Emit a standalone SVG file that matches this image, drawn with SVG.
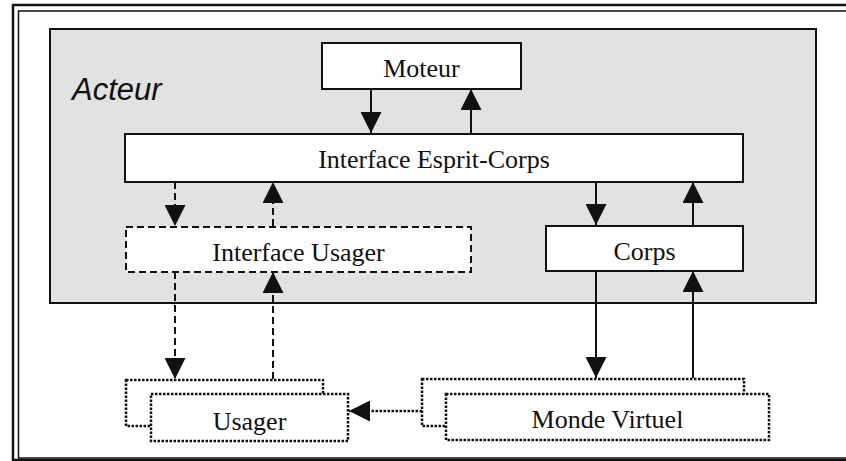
<svg xmlns="http://www.w3.org/2000/svg" width="846" height="461" viewBox="0 0 846 461">
  <style>
    .box { fill: #ffffff; stroke: #111111; stroke-width: 2; }
    .dash { stroke-dasharray: 7 4; }
    .dot { stroke-dasharray: 2.5 1.5; stroke-width: 2.5; }
    .lbl { font-family: "Liberation Serif", "Times New Roman", serif; font-size: 26px; fill: #111111; text-anchor: middle; }
    .wire { fill: none; stroke: #111111; stroke-width: 2; }
    .wire.d { stroke-dasharray: 7 4; }
    .wire.p { stroke-dasharray: 2.5 1.5; stroke-width: 2.5; }
  </style>
  <defs>
    <marker id="head" markerUnits="userSpaceOnUse" markerWidth="21" markerHeight="21" viewBox="0 0 21 21" refX="21" refY="10.5" orient="auto">
      <path d="M0,0 L21,10.5 L0,21 z" fill="#111111"/>
    </marker>
  </defs>

  <rect width="846" height="461" fill="#ffffff"/>

  <!-- double page frame -->
  <rect x="13" y="5" width="845" height="455" fill="none" stroke="#111111" stroke-width="2.5"/>
  <rect x="18.5" y="11" width="840" height="447" fill="none" stroke="#111111" stroke-width="1.5"/>

  <!-- Acteur container -->
  <g id="acteur">
    <rect x="50" y="29" width="766" height="274" fill="#e2e2e2" stroke="#111111" stroke-width="2"/>
    <text x="72" y="100" font-family="Liberation Sans, Arial, sans-serif" font-style="italic" font-size="31" fill="#111111">Acteur</text>
  </g>

  <g id="moteur">
    <rect class="box" x="322" y="43" width="199" height="46"/>
    <text class="lbl" x="421.5" y="77">Moteur</text>
  </g>

  <g id="interface-esprit-corps">
    <rect class="box" x="125" y="134" width="618" height="48"/>
    <text class="lbl" x="434" y="168">Interface Esprit-Corps</text>
  </g>

  <g id="interface-usager">
    <rect class="box dash" x="126" y="227" width="345" height="45"/>
    <text class="lbl" x="298.5" y="261">Interface Usager</text>
  </g>

  <g id="corps">
    <rect class="box" x="546" y="226" width="197" height="45"/>
    <text class="lbl" x="644.5" y="260">Corps</text>
  </g>

  <g id="usager">
    <rect class="box dot" x="126" y="380" width="197" height="46"/>
    <rect class="box dot" x="151" y="394" width="197" height="47"/>
    <text class="lbl" x="249.5" y="430">Usager</text>
  </g>

  <g id="monde-virtuel">
    <rect class="box dot" x="422" y="379" width="322" height="47"/>
    <rect class="box dot" x="446" y="394" width="323" height="46"/>
    <text class="lbl" x="607.5" y="428">Monde Virtuel</text>
  </g>

  <g id="connectors">
    <!-- Moteur / Interface Esprit-Corps -->
    <line class="wire" x1="371" y1="89" x2="371" y2="133" marker-end="url(#head)"/>
    <line class="wire" x1="471" y1="133" x2="471" y2="89" marker-end="url(#head)"/>
    <!-- Interface Esprit-Corps / Interface Usager -->
    <line class="wire d" x1="175" y1="182" x2="175" y2="226" marker-end="url(#head)"/>
    <line class="wire d" x1="273" y1="226" x2="273" y2="182" marker-end="url(#head)"/>
    <!-- Interface Esprit-Corps / Corps -->
    <line class="wire" x1="596" y1="182" x2="596" y2="225" marker-end="url(#head)"/>
    <line class="wire" x1="693" y1="225" x2="693" y2="182" marker-end="url(#head)"/>
    <!-- Interface Usager / Usager -->
    <line class="wire d" x1="175" y1="272" x2="175" y2="379" marker-end="url(#head)"/>
    <line class="wire d" x1="273" y1="379" x2="273" y2="272" marker-end="url(#head)"/>
    <!-- Corps / Monde Virtuel -->
    <line class="wire" x1="596" y1="271" x2="596" y2="378" marker-end="url(#head)"/>
    <line class="wire" x1="693" y1="378" x2="693" y2="271" marker-end="url(#head)"/>
    <!-- Monde Virtuel to Usager -->
    <line class="wire p" x1="422" y1="411" x2="349" y2="411" marker-end="url(#head)"/>
  </g>
</svg>
